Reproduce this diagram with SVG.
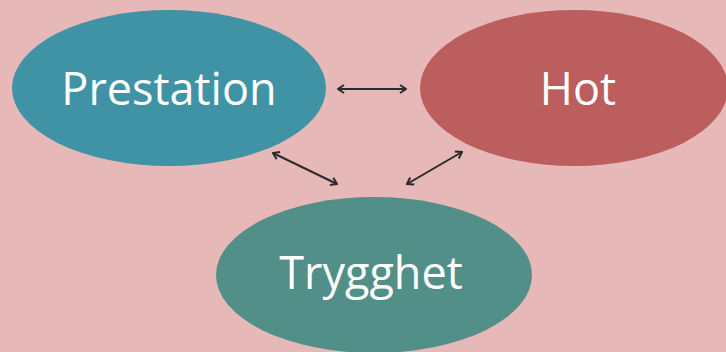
<svg xmlns="http://www.w3.org/2000/svg" width="726" height="352" viewBox="0 0 726 352">
<style>
.lbl{font-family:"Open Sans","Noto Sans","Liberation Sans",sans-serif;font-size:45px;fill:#ffffff;text-anchor:middle}
.conn{stroke:#2b2b2b;stroke-width:2;fill:none;marker-start:url(#ah);marker-end:url(#ah)}
</style>
<defs>
<marker id="ah" viewBox="0 0 10 10" refX="9" refY="5" markerWidth="10" markerHeight="10" markerUnits="userSpaceOnUse" orient="auto-start-reverse">
<path d="M3,1 L9,5 L3,9" fill="none" stroke="#2b2b2b" stroke-width="2"/>
</marker>
</defs>
<rect width="726" height="352" fill="#E6B8B7"/>
<g id="prestation">
<ellipse cx="169" cy="88" rx="157" ry="78" fill="#4093A5"/>
<text class="lbl" x="169" y="105">Prestation</text>
</g>
<g id="hot">
<ellipse cx="574" cy="88" rx="154" ry="78" fill="#BD5E5E"/>
<text class="lbl" x="578" y="105">Hot</text>
</g>
<g id="trygghet">
<ellipse cx="374" cy="275" rx="158" ry="78" fill="#518F88"/>
<text class="lbl" x="371" y="289">Trygghet</text>
</g>
<g id="connectors">
<line class="conn" x1="338" y1="89" x2="406" y2="89"/>
<line class="conn" x1="273" y1="153" x2="337" y2="184"/>
<line class="conn" x1="462" y1="152" x2="407" y2="184"/>
</g>
</svg>
